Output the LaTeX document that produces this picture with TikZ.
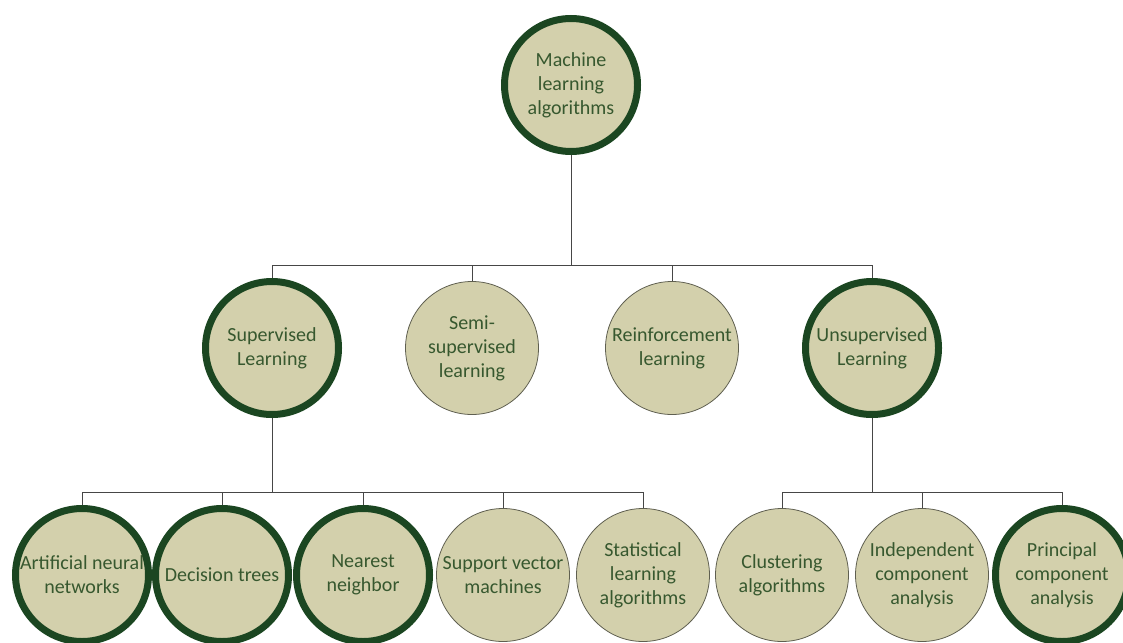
\documentclass[tikz,border=0pt]{standalone}
\usepackage{fontspec}
\setmainfont{Carlito}
\definecolor{kaki}{RGB}{211,208,172}
\definecolor{vertfonce}{RGB}{27,70,33}
\definecolor{vertclair}{RGB}{55,88,47}
\definecolor{grisbord}{RGB}{95,95,80}
\definecolor{grislien}{RGB}{70,70,70}
\begin{document}
\begin{tikzpicture}[x=1pt,y=-1pt]  % une unite = un pixel
\tikzstyle{algo}=[circle, minimum size=133pt, inner sep=0pt, fill=kaki, text=vertclair, font=\fontsize{20}{24}\selectfont, align=center]
\tikzstyle{principal}=[algo, draw=vertfonce, line width=7pt]
\tikzstyle{secondaire}=[algo, draw=grisbord, line width=0.8pt]
\tikzstyle{lien}=[draw=grislien, line width=1pt]
\useasboundingbox (0,0) rectangle (1123,642);
% racine
\node[principal] (racine) at (571,85) {Machine\\learning\\algorithms};
% niveau 1
\node[principal] (sup) at (272,348) {Supervised\\Learning};
\node[secondaire] (semi) at (472,348) {Semi-\\supervised\\learning};
\node[secondaire] (renf) at (672,348) {Reinforcement\\learning};
\node[principal] (nonsup) at (872,348) {Unsupervised\\Learning};
% niveau 2
\foreach \x/\nom/\sty/\txt in {
  82/ann/principal/{Artificial neural\\networks},
  222/arbre/principal/{Decision trees},
  363/voisin/principal/{Nearest\\neighbor},
  503/svm/secondaire/{Support vector\\machines},
  643/stat/secondaire/{Statistical\\learning\\algorithms},
  782/clus/secondaire/{Clustering\\algorithms},
  922/ica/secondaire/{Independent\\component\\analysis},
  1062/pca/principal/{Principal\\component\\analysis}}
  \node[\sty] (\nom) at (\x,575) {\txt};
% liens
\coordinate (b1) at (571,265);
\draw[lien] (racine.south) -- (b1);
\foreach \n in {sup,semi,renf,nonsup} \draw[lien] (b1) -| (\n.north);
\coordinate (b2) at (272,492);
\draw[lien] (sup.south) -- (b2);
\foreach \n in {ann,arbre,voisin,svm,stat} \draw[lien] (b2) -| (\n.north);
\coordinate (b3) at (872,492);
\draw[lien] (nonsup.south) -- (b3);
\foreach \n in {clus,ica,pca} \draw[lien] (b3) -| (\n.north);
\end{tikzpicture}
\end{document}
